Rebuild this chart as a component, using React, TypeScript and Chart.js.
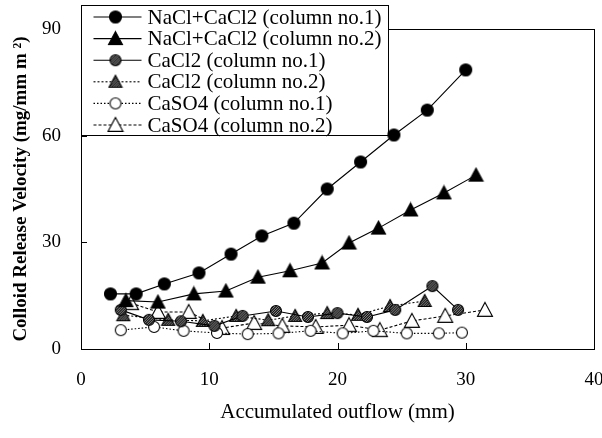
import React, { useEffect, useRef } from 'react';
import { Chart, registerables } from 'chart.js';

Chart.register(...registerables);

// ---- Data ----
const nacl1X = [2.3, 4.3, 6.5, 9.2, 11.7, 14.1, 16.6, 19.2, 21.8, 24.4, 27.0, 30.0];
const nacl1Y = [15.5, 15.5, 18.3, 21.4, 26.7, 31.8, 35.4, 45.0, 52.6, 60.2, 67.2, 78.5];
const nacl2X = [3.5, 6.0, 8.8, 11.3, 13.8, 16.3, 18.8, 20.9, 23.2, 25.7, 28.3, 30.8];
const nacl2Y = [13.6, 13.2, 15.5, 16.3, 20.2, 22.0, 24.2, 29.8, 34.0, 39.1, 43.9, 48.9];
const cacl1X = [3.1, 5.3, 7.8, 10.4, 12.6, 15.2, 17.7, 20.0, 22.3, 24.5, 27.4, 29.4];
const cacl1Y = [11.0, 8.2, 7.8, 6.5, 9.3, 10.7, 9.0, 10.1, 9.0, 11.0, 17.7, 11.0];
const cacl2X = [3.3, 6.8, 9.5, 12.1, 14.6, 16.7, 19.2, 21.6, 24.1, 26.8];
const cacl2Y = [9.5, 8.2, 7.9, 9.3, 8.1, 9.3, 10.1, 9.6, 12.1, 13.5];
const caso1X = [3.1, 5.7, 8.0, 10.6, 13.0, 15.4, 17.9, 20.4, 22.8, 25.4, 27.9, 29.7];
const caso1Y = [5.3, 6.2, 5.1, 4.5, 4.2, 4.4, 5.1, 4.4, 5.1, 4.4, 4.4, 4.6];
const caso2X = [3.9, 6.0, 8.4, 11.0, 13.5, 15.7, 18.3, 20.9, 23.3, 25.8, 28.4, 31.5];
const caso2Y = [12.9, 10.4, 10.4, 5.9, 7.3, 6.5, 6.2, 6.7, 5.3, 7.9, 9.3, 11.0];

const seriesLabels = [
  'NaCl+CaCl2 (column no.1)',
  'NaCl+CaCl2 (column no.2)',
  'CaCl2 (column no.1)',
  'CaCl2 (column no.2)',
  'CaSO4 (column no.1)',
  'CaSO4 (column no.2)',
];
const xTicks = [0, 10, 20, 30, 40];
const yTicks = [0, 30, 60, 90];
const xTitle = 'Accumulated outflow (mm)';
const yTitle = 'Colloid Release Velocity (mg/mm m \u00B2)';

const SERIF = "'Liberation Serif', 'Times New Roman', serif";

function makeMarker(shape: 'circle' | 'triangle', fill: 'solid' | 'hatch' | 'open', size: number): HTMLCanvasElement {
  const c = document.createElement('canvas');
  c.width = size + 3;
  c.height = size + 3;
  const ctx = c.getContext('2d')!;
  const cx = c.width / 2;
  const cy = c.height / 2;
  const r = size / 2;
  const path = () => {
    ctx.beginPath();
    if (shape === 'circle') {
      ctx.arc(cx, cy, r, 0, Math.PI * 2);
    } else {
      ctx.moveTo(cx, cy - r);
      ctx.lineTo(cx + r, cy + r * 0.85);
      ctx.lineTo(cx - r, cy + r * 0.85);
      ctx.closePath();
    }
  };
  path();
  ctx.fillStyle = fill === 'solid' ? '#000' : '#fff';
  ctx.fill();
  if (fill === 'hatch') {
    ctx.save();
    path();
    ctx.clip();
    ctx.strokeStyle = '#111';
    ctx.lineWidth = 1.4;
    for (let k = -size * 2; k < size * 2; k += 2.5) {
      ctx.beginPath();
      ctx.moveTo(k, c.height);
      ctx.lineTo(k + c.height, 0);
      ctx.stroke();
    }
    ctx.restore();
  }
  path();
  ctx.strokeStyle = '#000';
  ctx.lineWidth = 1.1;
  ctx.stroke();
  return c;
}

export default function App() {
  const ref = useRef<HTMLCanvasElement>(null);

  useEffect(() => {
    const canvas = ref.current;
    if (!canvas) return;

    const markers = [
      makeMarker('circle', 'solid', 12),
      makeMarker('triangle', 'solid', 14),
      makeMarker('circle', 'hatch', 11),
      makeMarker('triangle', 'hatch', 13),
      makeMarker('circle', 'open', 11),
      makeMarker('triangle', 'open', 15),
    ];
    const dashes: number[][] = [[], [], [], [2, 2], [1.5, 2], [3, 2]];
    const xs = [nacl1X, nacl2X, cacl1X, cacl2X, caso1X, caso2X];
    const ys = [nacl1Y, nacl2Y, cacl1Y, cacl2Y, caso1Y, caso2Y];

    const datasets = seriesLabels.map((label, i) => ({
      label,
      data: xs[i].map((x, j) => ({ x, y: ys[i][j] })),
      showLine: true,
      borderColor: '#000',
      borderWidth: 1.1,
      borderDash: dashes[i],
      backgroundColor: '#000',
      pointStyle: markers[i],
      pointRadius: 6,
      tension: 0,
    }));

    const framePlugin = {
      id: 'frameLegend',
      beforeDatasetsDraw(chart: any) {
        const { ctx, chartArea: a, scales } = chart;
        ctx.save();
        // plot frame
        ctx.strokeStyle = '#000';
        ctx.lineWidth = 1;
        ctx.strokeRect(Math.round(a.left) + 0.5, Math.round(a.top) + 0.5, Math.round(a.right - a.left), Math.round(a.bottom - a.top));
        // inside tick marks
        ctx.beginPath();
        xTicks.forEach((v) => {
          const px = Math.round(scales.x.getPixelForValue(v)) + 0.5;
          ctx.moveTo(px, a.bottom);
          ctx.lineTo(px, a.bottom - 6);
        });
        yTicks.forEach((v) => {
          const py = Math.round(scales.y.getPixelForValue(v)) + 0.5;
          ctx.moveTo(a.left, py);
          ctx.lineTo(a.left + 6, py);
        });
        ctx.stroke();

        // legend box
        const bx = Math.round(a.left) + 0.5;
        const by = 5.5;
        const bw = 307;
        const bh = 130;
        ctx.fillStyle = '#fff';
        ctx.fillRect(bx, by, bw, bh);
        ctx.strokeRect(bx, by, bw, bh);
        ctx.font = `21px ${SERIF}`;
        ctx.textBaseline = 'middle';
        ctx.textAlign = 'left';
        ctx.fillStyle = '#000';
        seriesLabels.forEach((label, i) => {
          const cy = 17 + i * 21.6;
          ctx.save();
          ctx.setLineDash(dashes[i]);
          ctx.lineWidth = 1.1;
          ctx.beginPath();
          ctx.moveTo(bx + 12, cy);
          ctx.lineTo(bx + 60, cy);
          ctx.stroke();
          ctx.restore();
          const m = markers[i];
          ctx.drawImage(m, bx + 34 - m.width / 2, cy - m.height / 2);
          ctx.fillText(label, bx + 66, cy + 1);
        });
        ctx.restore();
      },
    };

    const chart = new Chart(canvas, {
      type: 'scatter',
      data: { datasets: datasets as any },
      options: {
        responsive: false,
        animation: false,
        devicePixelRatio: 1,
        layout: { padding: { top: 29, right: 8, left: 0, bottom: 0 } },
        plugins: { legend: { display: false }, tooltip: { enabled: false } },
        scales: {
          x: {
            type: 'linear',
            min: 0,
            max: 40,
            afterBuildTicks: (s: any) => { s.ticks = xTicks.map((v) => ({ value: v })); },
            afterFit: (s: any) => { s.height = 89; s.paddingRight = 0; s.paddingLeft = 0; },
            ticks: { color: '#000', font: { family: SERIF, size: 19 }, padding: 20 },
            grid: { drawOnChartArea: false, drawTicks: false, color: '#000' },
            border: { color: '#000', width: 1 },
            title: {
              display: true,
              text: xTitle,
              color: '#000',
              font: { family: SERIF, size: 21 },
              padding: { top: 0, bottom: 13 },
            },
          },
          y: {
            type: 'linear',
            min: 0,
            max: 90,
            afterBuildTicks: (s: any) => { s.ticks = yTicks.map((v) => ({ value: v })); },
            afterFit: (s: any) => { s.width = 81; s.paddingTop = 0; s.paddingBottom = 0; },
            ticks: { color: '#000', font: { family: SERIF, size: 19 }, padding: 20 },
            grid: { drawOnChartArea: false, drawTicks: false, color: '#000' },
            border: { color: '#000', width: 1 },
            title: {
              display: true,
              text: yTitle,
              color: '#000',
              font: { family: SERIF, size: 19, weight: 'bold' },
              padding: { top: 10, bottom: 0 },
            },
          },
        },
      },
      plugins: [framePlugin],
    });

    return () => chart.destroy();
  }, []);

  return (
    <div style={{ position: 'fixed', left: 0, top: 0, width: 602, height: 438, background: '#fff' }}>
      <canvas ref={ref} width={602} height={438} style={{ display: 'block' }} />
    </div>
  );
}
